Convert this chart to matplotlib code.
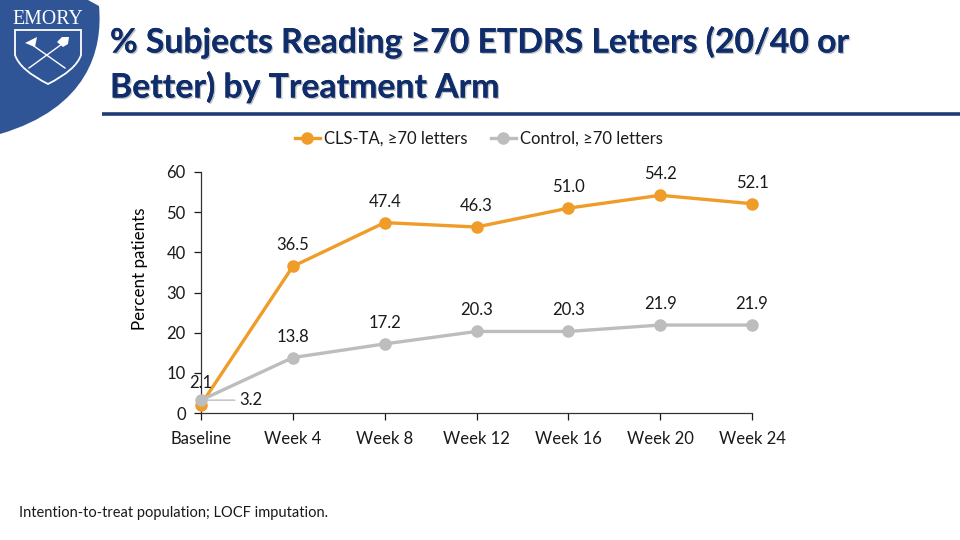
import matplotlib
matplotlib.use("Agg")
import matplotlib.pyplot as plt
import matplotlib.patheffects as pe
from matplotlib.patches import PathPatch, Polygon
from matplotlib.path import Path

weeks = ["Baseline", "Week 4", "Week 8", "Week 12", "Week 16", "Week 20", "Week 24"]
cls_ta = [2.1, 36.5, 47.4, 46.3, 51.0, 54.2, 52.1]
control = [3.2, 13.8, 17.2, 20.3, 20.3, 21.9, 21.9]
yticks = [0, 10, 20, 30, 40, 50, 60]

orange = "#F09C28"
grey = "#BDBDBD"
navy = "#0F2D6B"
logo_blue = "#2F5597"
text_col = "#1A1A1A"

plt.rcParams["font.family"] = ["Lato", "DejaVu Sans"]

fig = plt.figure(figsize=(9.6, 5.4), dpi=100, facecolor="white")

# pixel layer for the logo, title and rule
bg = fig.add_axes([0, 0, 1, 1])
bg.set_xlim(0, 960)
bg.set_ylim(540, 0)
bg.axis("off")

verts = [(0, 0), (88, 0), (99, 6), (103, 50), (88, 108), (0, 134), (0, 0)]
codes = [Path.MOVETO, Path.LINETO, Path.LINETO, Path.CURVE4, Path.CURVE4, Path.CURVE4, Path.CLOSEPOLY]
bg.add_patch(PathPatch(Path(verts, codes), facecolor=logo_blue, edgecolor="none"))

bg.text(48, 19, "EMORY", family="Liberation Serif", fontsize=14.3, color="white", ha="center", va="center")
shield_v = [(15, 30), (81, 30), (81, 55), (76, 70), (48, 84), (20, 70), (15, 55), (15, 30)]
shield_c = [Path.MOVETO, Path.LINETO, Path.LINETO, Path.CURVE3, Path.CURVE3, Path.CURVE3, Path.CURVE3, Path.CLOSEPOLY]
bg.add_patch(PathPatch(Path(shield_v, shield_c), facecolor="none", edgecolor="white", lw=1.3))
bg.plot([31, 65], [44, 68], color="white", lw=1)
bg.plot([62, 29], [44, 68], color="white", lw=1)
bg.add_patch(Polygon([(25, 43), (37, 37), (35, 47)], facecolor="white", edgecolor="none"))
bg.add_patch(Polygon([(57, 42), (62, 37), (69, 37), (68, 44), (63, 47)], facecolor="white", edgecolor="none"))

shadow = [pe.withSimplePatchShadow(offset=(1, -1), shadow_rgbFace="#888888", alpha=0.5), pe.Normal()]
bg.text(110, 42, "% Subjects Reading ≥70 ETDRS Letters (20/40 or", fontsize=24.3, fontweight="bold",
        color=navy, va="center", path_effects=shadow)
bg.text(110, 87, "Better) by Treatment Arm", fontsize=24.3, fontweight="bold",
        color=navy, va="center", path_effects=shadow)
bg.plot([102, 960], [114, 114], color="#1F3B78", lw=2.6, solid_capstyle="butt")

bg.text(19, 513, "Intention-to-treat population; LOCF imputation.", fontsize=10.5, color=text_col, va="center")
bg.text(140, 269, "Percent patients", fontsize=12.2, color="black", rotation=90, ha="center", va="center")

# chart, plot area 201..752 x 172..413 px
ax = fig.add_axes([201 / 960, 1 - 413 / 540, (752 - 201) / 960, (413 - 172) / 540])
ax.patch.set_alpha(0)
x = list(range(len(weeks)))
l1, = ax.plot(x, cls_ta, color=orange, lw=2.4, marker="o", ms=8, label="CLS-TA, ≥70 letters", clip_on=False, zorder=3)
l2, = ax.plot(x, control, color=grey, lw=2.4, marker="o", ms=8, label="Control, ≥70 letters", clip_on=False, zorder=4)

ax.set_xlim(0, len(weeks) - 1)
ax.set_ylim(0, 60)
ax.set_xticks(x)
ax.set_xticklabels(weeks)
ax.set_yticks(yticks)
ax.tick_params(labelsize=12, colors=text_col, length=5, width=0.9)
ax.tick_params(axis="x", pad=8)
ax.tick_params(axis="y", pad=6)
for s in ["top", "right"]:
    ax.spines[s].set_visible(False)
for s in ["left", "bottom"]:
    ax.spines[s].set_linewidth(0.9)
    ax.spines[s].set_color("#333333")

# value labels
for i in x[1:]:
    ax.annotate(f"{cls_ta[i]:.1f}", (i, cls_ta[i]), xytext=(0, 13), textcoords="offset pixels",
                ha="center", va="bottom", fontsize=12, color=text_col)
    ax.annotate(f"{control[i]:.1f}", (i, control[i]), xytext=(0, 13), textcoords="offset pixels",
                ha="center", va="bottom", fontsize=12, color=text_col)
ax.annotate(f"{cls_ta[0]:.1f}", (0, cls_ta[0]), xytext=(0, 14), textcoords="offset pixels",
            ha="center", va="bottom", fontsize=12, color=text_col, zorder=5)
ax.annotate(f"{control[0]:.1f}", (0, control[0]), xytext=(38, 0), textcoords="offset pixels",
            ha="left", va="center", fontsize=12, color=text_col,
            arrowprops=dict(arrowstyle="-", color=grey, lw=1, shrinkA=1, shrinkB=0))

fig.legend(handles=[l1, l2], loc="center", bbox_to_anchor=(479 / 960, 1 - 139 / 540), ncol=2, frameon=False,
           fontsize=12, labelcolor=text_col, handlelength=1.5, handletextpad=0.25, columnspacing=1.4)

fig.savefig("out.png", dpi=100)
